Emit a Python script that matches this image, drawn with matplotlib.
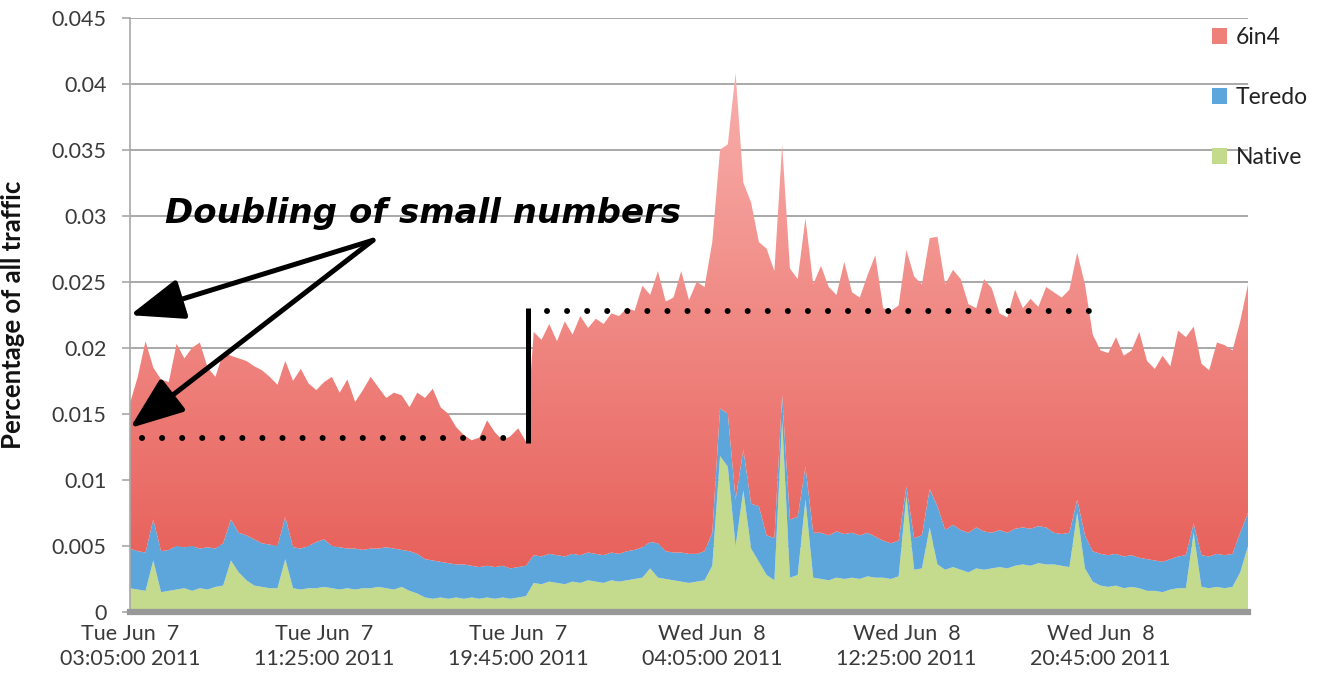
import numpy as np
import matplotlib
matplotlib.use("Agg")
import matplotlib.pyplot as plt
from matplotlib.patches import Rectangle
from matplotlib.colors import LinearSegmentedColormap

# ---------------- data (values in units of 0.001 = per-mille of traffic) ----------------
step_minutes = 20          # one sample every 20 minutes, starting Tue Jun 7 03:05:00 2011
unit = 1e-3

native = [1.8, 1.7, 1.6, 3.9, 1.5, 1.6, 1.7, 1.8, 1.6, 1.8, 1.7, 1.9, 2.0, 3.9, 3.0, 2.4, 2.0, 1.9, 1.8, 1.8,
          4.0, 1.8, 1.7, 1.8, 1.8, 1.9, 1.8, 1.7, 1.8, 1.7, 1.8, 1.8, 1.9, 1.8, 1.7, 1.9, 1.6, 1.4, 1.1, 1.0,
          1.1, 1.0, 1.1, 1.0, 1.1, 1.0, 1.1, 1.0, 1.1, 1.0, 1.1, 1.2, 2.2, 2.1, 2.3, 2.2, 2.1, 2.3, 2.2, 2.4,
          2.3, 2.2, 2.4, 2.3, 2.4, 2.5, 2.6, 3.3, 2.6, 2.5, 2.4, 2.3, 2.2, 2.3, 2.4, 3.5, 11.8, 11.0, 5.0, 9.2,
          4.8, 3.8, 2.8, 2.4, 14.5, 2.6, 2.8, 8.5, 2.6, 2.5, 2.4, 2.6, 2.5, 2.6, 2.5, 2.7, 2.6, 2.6, 2.5, 2.7,
          8.8, 3.2, 3.3, 6.4, 3.6, 3.2, 3.4, 3.2, 3.0, 3.3, 3.2, 3.3, 3.4, 3.3, 3.5, 3.6, 3.5, 3.7, 3.6, 3.6,
          3.5, 3.4, 7.5, 3.3, 2.3, 2.0, 1.9, 2.0, 1.8, 1.9, 1.8, 1.6, 1.6, 1.5, 1.7, 1.8, 1.8, 6.0, 1.9, 1.8,
          1.9, 1.8, 1.9, 3.0, 5.0]

teredo = [3.0, 2.9, 2.9, 3.1, 3.1, 3.1, 3.3, 3.1, 3.4, 3.0, 3.2, 2.9, 3.2, 3.1, 3.0, 3.4, 3.5, 3.3, 3.3, 3.2,
          3.2, 3.1, 3.1, 3.2, 3.5, 3.6, 3.2, 3.2, 3.0, 3.1, 2.9, 3.0, 2.9, 3.1, 3.1, 2.8, 3.0, 3.0, 2.9, 2.9,
          2.7, 2.7, 2.5, 2.6, 2.4, 2.4, 2.4, 2.4, 2.4, 2.3, 2.3, 2.3, 2.1, 2.1, 2.1, 2.1, 2.1, 2.1, 2.1, 2.1,
          2.1, 2.1, 2.1, 2.1, 2.2, 2.2, 2.3, 2.0, 2.6, 2.1, 2.1, 2.2, 2.2, 2.1, 2.2, 2.5, 3.6, 4.0, 3.5, 3.1,
          3.4, 4.2, 3.0, 3.2, 1.9, 4.4, 4.4, 2.5, 3.4, 3.5, 3.4, 3.5, 3.4, 3.4, 3.3, 3.3, 3.1, 2.8, 2.7, 2.7,
          0.7, 2.4, 2.5, 2.9, 4.4, 3.0, 3.2, 3.0, 3.0, 3.1, 2.9, 2.7, 2.8, 2.7, 2.8, 2.8, 2.8, 2.8, 2.8, 2.4,
          2.4, 2.6, 1.0, 2.5, 2.3, 2.4, 2.4, 2.4, 2.4, 2.4, 2.3, 2.4, 2.3, 2.3, 2.3, 2.4, 2.5, 0.7, 2.4, 2.4,
          2.5, 2.5, 2.5, 3.0, 2.5]

sixin4 = [11.0, 13.2, 16.0, 11.5, 13.0, 12.7, 15.3, 14.3, 15.0, 15.6, 13.6, 13.0, 14.4, 12.4, 13.2, 13.2, 13.1, 13.1, 12.7, 12.2,
          11.8, 12.6, 13.6, 12.3, 11.5, 11.9, 12.8, 11.7, 12.8, 11.1, 12.1, 13.0, 12.2, 11.3, 11.8, 11.7, 10.9, 12.2, 12.2, 13.0,
          11.7, 11.3, 10.4, 9.8, 9.5, 9.8, 11.0, 10.2, 9.5, 10.0, 10.5, 9.4, 16.9, 16.4, 17.4, 16.2, 17.8, 16.6, 18.1, 17.0,
          17.8, 17.5, 18.1, 18.0, 18.4, 18.1, 19.8, 18.7, 20.6, 18.9, 19.3, 21.3, 19.2, 20.6, 20.0, 22.0, 19.6, 20.4, 32.3, 20.2,
          22.8, 20.0, 21.7, 20.2, 19.0, 19.0, 18.0, 18.8, 18.8, 20.2, 18.8, 17.9, 20.6, 18.2, 18.0, 19.5, 21.3, 17.6, 17.6, 17.8,
          17.9, 19.8, 19.0, 19.0, 20.4, 18.6, 19.3, 19.0, 17.3, 16.6, 19.1, 18.5, 16.4, 16.3, 18.1, 16.6, 17.4, 16.6, 18.2, 18.2,
          17.9, 18.4, 18.7, 19.0, 16.4, 15.4, 15.3, 16.4, 15.2, 15.5, 17.1, 15.0, 14.5, 15.6, 14.6, 17.1, 16.5, 14.9, 14.5, 14.1,
          16.0, 15.9, 15.4, 16.0, 17.3]

series_labels = ["Native", "Teredo", "6in4"]

x_tick_minutes = [0, 500, 1000, 1500, 2000, 2500]
x_tick_labels = ["Tue Jun  7\n03:05:00 2011", "Tue Jun  7\n11:25:00 2011", "Tue Jun  7\n19:45:00 2011",
                 "Wed Jun  8\n04:05:00 2011", "Wed Jun  8\n12:25:00 2011", "Wed Jun  8\n20:45:00 2011"]
y_ticks = [0, 0.005, 0.01, 0.015, 0.02, 0.025, 0.03, 0.035, 0.04, 0.045]
y_tick_labels = ["0", "0.005", "0.01", "0.015", "0.02", "0.025", "0.03", "0.035", "0.04", "0.045"]

annotation_text = "Doubling of small numbers"
level_before = 0.01316     # dotted reference level before the jump
level_after = 0.02277      # dotted reference level after the jump
jump_minute = 1025

# ---------------- styling ----------------
plt.rcParams["font.family"] = ["Lato", "DejaVu Sans"]
GREEN = "#c4da8c"
BLUE = "#5ca6dc"
RED = "#ee7f79"
TEXT = "#3a3a3a"
GRID = "#a8a8a8"

fig = plt.figure(figsize=(13.44, 6.92), dpi=100)
ax = fig.add_axes([130 / 1344, 1 - 612 / 692, 1118 / 1344, (612 - 17.5) / 692])

t = np.arange(len(native)) * step_minutes
nat = np.array(native) * unit
ter = np.array(teredo) * unit
six = np.array(sixin4) * unit

polys = ax.stackplot(t, nat, ter, six, colors=[GREEN, BLUE, RED], linewidth=0, zorder=2)

# Excel-like vertical gradient on the 6in4 area
red_poly = polys[2]
red_poly.set_facecolor("none")
cmap = LinearSegmentedColormap.from_list("redgrad", ["#e65a54", "#f9b2ae"])
grad = np.linspace(0, 1, 256).reshape(-1, 1)
im = ax.imshow(grad, cmap=cmap, origin="lower", extent=[t[0], t[-1], 0, 0.042],
               aspect="auto", zorder=2.1, interpolation="bilinear")
im.set_clip_path(red_poly.get_paths()[0], transform=ax.transData)

ax.set_xlim(t[0], t[-1])
ax.set_ylim(0, 0.045)

# axes styling
ax.set_axisbelow(True)
ax.yaxis.grid(True, color=GRID, lw=1.4)
for s in ["top", "right", "bottom"]:
    ax.spines[s].set_visible(False)
ax.spines["left"].set_color(GRID)
ax.spines["left"].set_linewidth(1.2)
ax.axhline(0, color="#999999", lw=4.5, zorder=3, clip_on=False)

ax.set_yticks(y_ticks)
ax.set_yticklabels(y_tick_labels)
ax.tick_params(axis="y", length=6, color=GRID, width=1.2, pad=11, labelsize=15.5, labelcolor=TEXT)
ax.set_xticks(x_tick_minutes)
ax.set_xticklabels(x_tick_labels, linespacing=1.3)
ax.tick_params(axis="x", length=0, pad=9, labelsize=15.5, labelcolor=TEXT)

ax.set_ylabel("Percentage of all traffic", fontsize=18.5, fontweight="bold", color="#111111")
ax.yaxis.set_label_coords(-0.094, 0.5)

# legend (order as in reference: 6in4, Teredo, Native)
handles = [Rectangle((0, 0), 1, 1, facecolor=c, edgecolor="none") for c in [RED, BLUE, GREEN]]
leg = ax.legend(handles, ["6in4", "Teredo", "Native"], loc="upper left",
                bbox_to_anchor=(1212 / 1344, 1 - 27 / 692), bbox_transform=fig.transFigure,
                frameon=False, fontsize=16.5, handlelength=0.65, handleheight=0.65,
                handletextpad=0.4, labelspacing=1.7, borderaxespad=0, borderpad=0)
for txt in leg.get_texts():
    txt.set_color("#222222")

# annotations
ax.text(90, 0.02943, annotation_text, fontsize=24.5, fontweight="bold", fontstyle="italic",
        family=["DejaVu Sans"], color="black", va="baseline", ha="left", zorder=6)
arrow_kw = dict(arrowstyle="-|>,head_length=1.1,head_width=0.42", lw=3.6, color="black",
                mutation_scale=30, shrinkA=0, shrinkB=0)
ax.annotate("", xy=(0, 0.02247), xytext=(626, 0.02814), arrowprops=arrow_kw,
            annotation_clip=False, zorder=6)
ax.annotate("", xy=(0, 0.01392), xytext=(626, 0.02814), arrowprops=arrow_kw,
            annotation_clip=False, zorder=6)

dot_style = dict(color="black", lw=4.3, linestyle=(0, (0.01, 3.35)), dash_capstyle="round", zorder=6)
ax.plot([31, 971], [level_before, level_before], **dot_style)
ax.plot([1074, 2478], [level_after, level_after], **dot_style)
ax.plot([jump_minute, jump_minute], [0.0128, 0.0230], color="black", lw=3.6, zorder=6,
        solid_capstyle="butt")

fig.savefig("out.png", dpi=100, facecolor="white")
